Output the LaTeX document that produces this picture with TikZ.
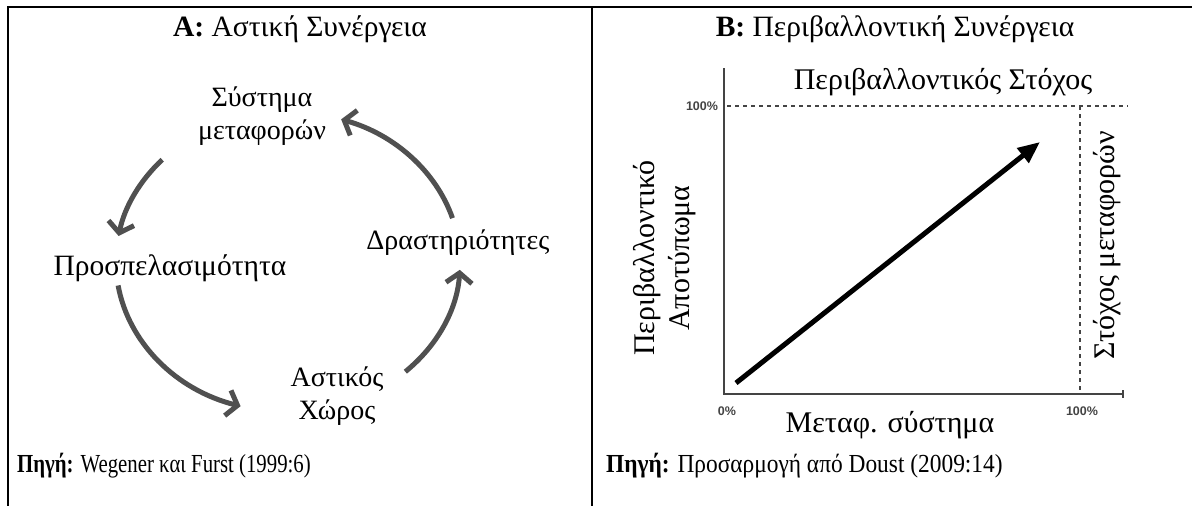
\documentclass[tikz,border=0pt]{standalone}
\usepackage{fontspec}
\setmainfont{Liberation Serif}
\newfontfamily\chartfont{Liberation Sans}
\usetikzlibrary{arrows.meta}
\definecolor{cyclegray}{HTML}{505050}
\definecolor{axisgray}{HTML}{444444}
\tikzset{
  frame/.style={line width=2.2pt, black},
  title/.style={font=\fontsize{29.5}{32}\selectfont, inner sep=0pt},
  lab/.style={font=\fontsize{28}{33}\selectfont, inner sep=0pt, align=center},
  chartlab/.style={font=\fontsize{30}{34}\selectfont, inner sep=0pt},
  src/.style={font=\fontsize{26}{30}\selectfont, inner sep=0pt, anchor=west},
  cyc/.style={line width=5pt, cyclegray, -{Straight Barb[length=10pt,width=26pt]}},
  axisline/.style={line width=1.6pt, axisgray},
  guide/.style={line width=1.4pt, axisgray, dash pattern=on 4pt off 4pt},
  pct/.style={font=\chartfont\bfseries\fontsize{12.5}{13}\selectfont, text=axisgray, inner sep=0pt},
  growth/.style={line width=5pt, black, -{Triangle[length=22pt,width=18pt]}}
}
\begin{document}
\begin{tikzpicture}[x=1pt,y=-1pt]
\useasboundingbox (0,0) rectangle (1192,506);
% table frame
\draw[frame] (8,506) -- (8,7) -- (1192,7);
\draw[frame] (592,7) -- (592,506);
% titles
\node[title] (ta) at (300,29) {\textbf{A:} Αστική Συνέργεια};
\node[title] (tb) at (895,29) {\textbf{B:} Περιβαλλοντική Συνέργεια};
% panel A: cycle
\node[lab] (sys) at (262,116) {Σύστημα\\μεταφορών};
\node[lab, font=\fontsize{29.5}{33}\selectfont] (pros) at (170,268) {Προσπελασιμότητα};
\node[lab] (dra) at (458,243) {Δραστηριότητες};
\node[lab] (ast) at (337,396) {Αστικός\\Χώρος};
\coordinate (ctr) at (288,262);
\path (ctr) ++(-17:172 and 150) coordinate (a1s);
\path (ctr) ++(-137:172 and 150) coordinate (a2s);
\path (ctr) ++(171:172 and 150) coordinate (a3s);
\path (ctr) ++(47:172 and 150) coordinate (a4s);
\draw[cyc] (a1s) arc[start angle=-17, end angle=-72, x radius=172, y radius=150];
\draw[cyc] (a2s) arc[start angle=-137, end angle=-170, x radius=172, y radius=150];
\draw[cyc] (a3s) arc[start angle=171, end angle=106, x radius=172, y radius=150];
\draw[cyc] (a4s) arc[start angle=47, end angle=3, x radius=172, y radius=150];
% panel B: chart
\coordinate (O) at (724,394);
\coordinate (ytop) at (724,68);
\coordinate (xend) at (1123,394);
\coordinate (h0) at (727,106);
\coordinate (h1) at (1128,106);
\coordinate (v0) at (1080,106);
\coordinate (v1) at (1080,394);
\draw[axisline] (ytop) -- (O) -- (xend);
\draw[axisline] (1123,390) -- (1123,398);
\draw[guide] (h0) -- (h1);
\draw[guide] (v0) -- (v1);
\node[pct] (p100y) at (702,106) {100\%};
\node[pct] (p0) at (727,411) {0\%};
\node[pct] (p100x) at (1082,411) {100\%};
\node[chartlab] (envt) at (943,82) {Περιβαλλοντικός Στόχος};
\node[chartlab] (xlab) at (890,425) {Μεταφ. σύστημα};
\node[chartlab, rotate=90] (yl1) at (647,258) {Περιβαλλοντικό};
\node[chartlab, rotate=90] (yl2) at (682,258) {Αποτύπωμα};
\node[chartlab, rotate=90] (trt) at (1107,245) {Στόχος μεταφορών};
\coordinate (g0) at (736,383);
\coordinate (g1) at (1040,142);
\draw[growth] (g0) -- (g1);
% sources
\node[src] (sa) at (17,466) {\scalebox{0.8}[1]{\textbf{Πηγή:} Wegener και Furst (1999:6)}};
\node[src] (sb) at (606,466) {\scalebox{0.9}[1]{\textbf{Πηγή:} Προσαρμογή από Doust (2009:14)}};
\end{tikzpicture}
\end{document}
